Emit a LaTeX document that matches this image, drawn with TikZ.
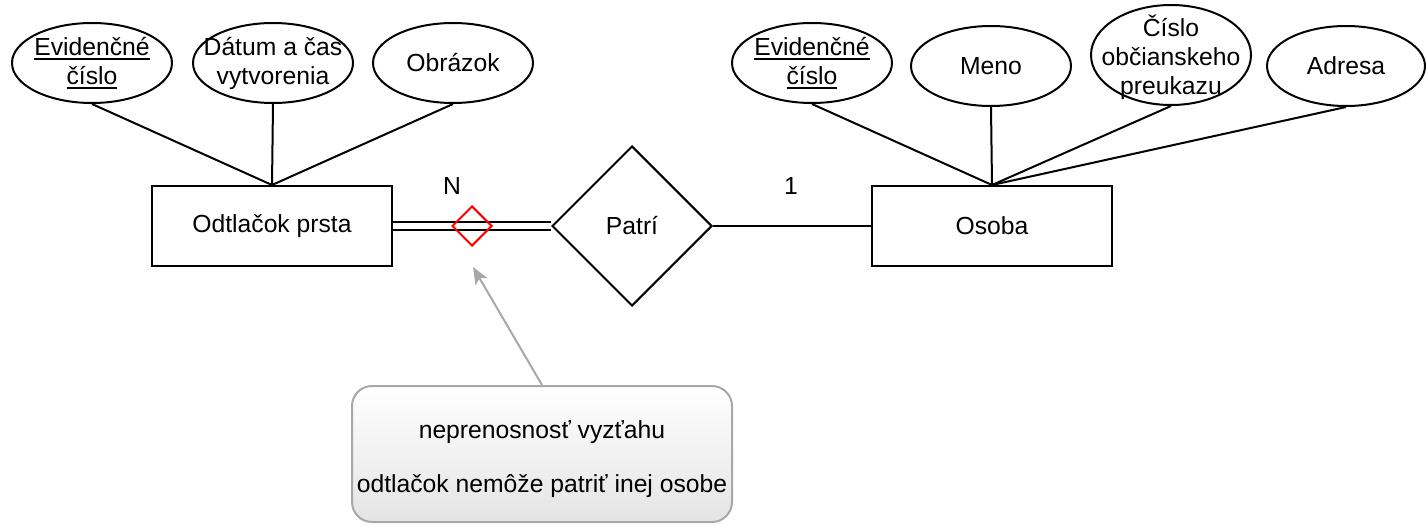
\documentclass[tikz,border=0pt]{standalone}
\usepackage{fontspec}
\setmainfont{Liberation Sans}
\usetikzlibrary{shapes.geometric,arrows.meta}
\definecolor{notegray}{RGB}{168,168,168}
\definecolor{notefill}{RGB}{228,228,228}
% key attribute underline: a rule a little below the baseline
\newcommand\keyattr[1]{\setbox0\hbox{#1}\rlap{\rule[-5pt]{\wd0}{1.8pt}}\box0}
\begin{document}
\begin{tikzpicture}[x=1pt,y=-1pt,
  font=\fontsize{24.7pt}{29pt}\selectfont,
  line width=2pt,
  entity/.style={draw, rectangle, minimum width=240pt, minimum height=80pt, inner sep=0pt},
  attr/.style={draw, ellipse, minimum width=160pt, minimum height=80pt, inner sep=0pt},
  relation/.style={draw, diamond, minimum width=160pt, minimum height=160pt, inner sep=0pt},
  flag/.style={draw=red, diamond, minimum width=40pt, minimum height=40pt, inner sep=0pt},
  txt/.style={align=center, inner sep=0pt},
  notebox/.style={draw=notegray, rounded corners=20pt, top color=white, bottom color=notefill,
    minimum width=380pt, minimum height=136pt},
  pointer/.style={draw=notegray, -{Stealth[length=17pt, width=14pt, inset=4pt]}}
]
\useasboundingbox (0,0) rectangle (1426,525);

% entities and relationship
\node[entity] (fp) at (272,226) {Odtlačok prsta};
\node[entity] (osoba) at (992,226) {Osoba};
\node[relation] (patri) at (632,226) {Patrí};

% attributes of Odtlačok prsta
\node[attr, label={[txt]center:{\keyattr{Evidenčné}\\\keyattr{číslo}}}] (fpid) at (92,63) {};
\node[attr, label={[txt]center:{Dátum a čas\\vytvorenia}}] (fpdate) at (273,63) {};
\node[attr, label={[txt]center:{Obrázok}}] (fpimg) at (453,63) {};

% attributes of Osoba
\node[attr, label={[txt]center:{\keyattr{Evidenčné}\\\keyattr{číslo}}}] (osid) at (812,63) {};
\node[attr, label={[txt]center:{Meno}}] (osname) at (991,66) {};
\node[attr, minimum height=100pt, label={[txt, yshift=-2pt]center:{Číslo\\občianskeho\\preukazu}}] (osop) at (1171,55) {};
\node[attr, minimum width=158pt, label={[txt]center:{Adresa}}] (osaddr) at (1346,66) {};

% attribute links
\foreach \a in {fpid,fpdate,fpimg} \draw (\a.south) -- (fp.north);
\foreach \a in {osid,osname,osop,osaddr} \draw (\a.south) -- (osoba.north);

% relationship links
\draw[double, double distance=6pt] (fp.east) -- (patri.west);
\draw (patri.east) -- (osoba.west);
\node[flag] (nontransfer) at (472,226) {};

% cardinalities
\node (cardN) at (452,186) {N};
\node (card1) at (791,186) {1};

% note with pointer
\node[notebox, label={[txt, yshift=-5pt]center:{neprenosnosť vyzťahu\\[25pt]odtlačok nemôže patriť inej osobe}}] (note) at (542,454) {};
\coordinate (tip) at (473,267);
\draw[pointer] (note.north) -- (tip);
\end{tikzpicture}
\end{document}
